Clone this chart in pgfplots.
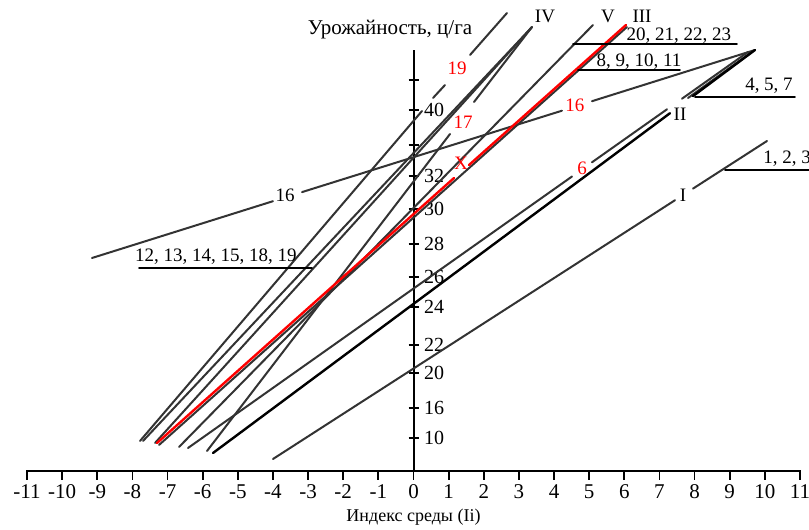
\documentclass[border=0pt]{standalone}
\usepackage{fontspec}
\setmainfont{Liberation Serif}
\usepackage{pgfplots}
\pgfplotsset{compat=1.18}
\definecolor{lg}{gray}{0.2}
\definecolor{rd}{rgb}{1,0,0}
\begin{document}
\fontsize{9.5}{11}\selectfont
\begin{tikzpicture}[font=\fontsize{9.5}{11}\selectfont]
\useasboundingbox (0,0) rectangle (404.5pt,265pt);
\begin{axis}[
  at={(13.5pt,29.5pt)}, anchor=south west,
  scale only axis, width=386.5pt, height=210.5pt,
  xmin=-11, xmax=11, ymin=0, ymax=421,
  clip=false,
  axis x line=bottom, axis y line=center,
  axis line style={-, line width=1pt, black},
  xtick={-11,...,11},
  xticklabels={-11,-10,-9,-8,-7,-6,-5,-4,-3,-2,-1,0,1,2,3,4,5,6,7,8,9,10,11},
  ytick={33,63,98,126,164,194,227,262,295,326,361,391},
  yticklabels={10,16,20,22,24,26,28,30,32,,40,},
  hide obscured x ticks=false, hide obscured y ticks=false,
  tick align=center, major tick length=5pt,
  tick style={line width=0.9pt, black},
  xtick style={yshift=-2pt},
  xticklabel style={yshift=-1pt, font=\fontsize{10.5}{12}\selectfont},
  yticklabel style={anchor=west, xshift=4.5pt, font=\fontsize{10}{12}\selectfont},
  every axis plot/.append style={no markers, line cap=round},
  gl/.style={color=lg, line width=1pt},
  bl/.style={color=black, line width=1.2pt},
  ul/.style={color=black, line width=0.8pt},
]
% line 19
\addplot[gl] coordinates {(-7.784,30) (0.242,360)};
\addplot[gl] coordinates {(0.555,373) (0.897,386)};
\addplot[gl] coordinates {(1.608,416) (2.661,458)};
% group IV
\addplot[gl] coordinates {(-7.699,30) (3.373,444)};
\addplot[gl] coordinates {(-7.357,28) (3.373,444)};
% line 17
\addplot[gl] coordinates {(-5.877,20) (1.039,337)};
\addplot[gl] coordinates {(1.722,369) (3.373,444)};
% group V
\addplot[gl] coordinates {(-6.674,24) (5.109,446)};
% group III
\addplot[gl] coordinates {(-7.243,26) (6.076,444)};
% line 6 / group II
\addplot[gl] coordinates {(-6.418,23) (4.511,294.5)};
\addplot[gl] coordinates {(5.080,308.7) (7.215,361.7)};
\addplot[gl] coordinates {(7.642,372.3) (9.520,419)};
\addplot[gl] coordinates {(7.813,373) (9.662,420)};
% line 16
\addplot[gl] coordinates {(-9.150,213) (-3.999,269.8)};
\addplot[gl] coordinates {(-3.173,278.9) (4.226,360.3)};
\addplot[gl] coordinates {(5.080,369.8) (9.719,421)};
% group I
\addplot[gl] coordinates {(-3.999,12) (7.443,270.8)};
\addplot[gl] coordinates {(7.955,282.4) (10.061,330)};
% group II (black)
\addplot[bl] coordinates {(-5.706,18) (7.300,357.8)};
\addplot[bl] coordinates {(7.955,374.9) (9.719,421)};
% X (red)
\addplot[color=rd, line width=1.2pt] coordinates {(-7.300,28) (1.153,293)};
\addplot[color=rd, line width=1.2pt] coordinates {(1.580,306) (6.048,446)};
% underlines
\addplot[ul] coordinates {(4.540,427) (9.207,427)};
\addplot[ul] coordinates {(4.682,401) (7.585,401)};
\addplot[ul] coordinates {(8.012,374) (10.858,374)};
\addplot[ul] coordinates {(8.866,301) (11.256,301)};
\addplot[ul] coordinates {(-7.813,203) (-2.889,203)};
% labels
\node at (axis cs:3.743,455) {IV};
\node at (axis cs:5.536,455) {V};
\node at (axis cs:6.503,455) {III};
\node at (axis cs:7.556,435) {20, 21, 22, 23};
\node at (axis cs:6.418,409) {8, 9, 10, 11};
\node at (axis cs:10.118,385) {4, 5, 7};
\node at (axis cs:7.585,357) {II};
\node[anchor=west, inner sep=0pt] at (axis cs:9.947,312) {1, 2, 3};
\node at (axis cs:7.670,276) {I};
\node at (axis cs:-3.657,276) {16};
\node at (axis cs:-5.621,214) {12, 13, 14, 15, 18, 19};
\node[rd] at (axis cs:1.238,403) {19};
\node[rd] at (axis cs:1.409,349) {17};
\node[rd] at (axis cs:1.352,308) {X};
\node[rd] at (axis cs:4.596,366) {16};
\node[rd] at (axis cs:4.796,303) {6};
\node[font=\fontsize{10.5}{12}\selectfont] at (axis cs:-0.669,441) {Урожайность, ц/га};
\node[font=\fontsize{9}{11}\selectfont] at (axis cs:0,-46) {Индекс среды (Ii)};
\end{axis}
\end{tikzpicture}
\end{document}
